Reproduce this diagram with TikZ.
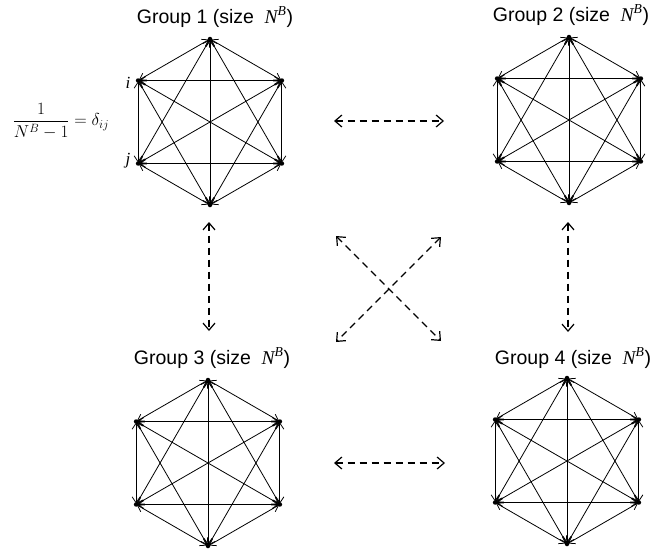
\documentclass[tikz,border=0pt]{standalone}
\usepackage{amsmath}
\usepackage{fontspec}
\setmainfont{Liberation Sans}
\newfontfamily\tms{Liberation Serif}
\usetikzlibrary{arrows.meta}
\tikzset{
  vtx/.style={circle,fill,inner sep=0pt,minimum size=4.5pt},
  kedge/.style={line width=0.8pt,
    {Straight Barb[length=6pt,width=8pt]}-{Straight Barb[length=6pt,width=8pt]},
    shorten <=-1.5pt, shorten >=-1.5pt},
  link/.style={line width=1.2pt,dash pattern=on 7pt off 5pt,
    {Straight Barb[length=7pt,width=12pt]}-{Straight Barb[length=7pt,width=12pt]}},
  title/.style={font=\fontsize{19.5}{23}\selectfont, inner sep=0pt},
  lbl/.style={font=\fontsize{17}{20}\selectfont\tms\itshape, inner sep=1pt},
}
\newcommand\NB{{\tms\itshape N}\textsuperscript{\tms\itshape B}}
\newcommand\hexgroup[4]{% name, cx, cy, number
  \begin{scope}[shift={(#2,#3)}]
    \foreach \k in {1,...,6}{
      \node[vtx] (#1v\k) at ({150-60*\k}:83) {};
    }
    \foreach \a in {1,...,6}{
      \foreach \b in {1,...,6}{
        \ifnum\a<\b
          \draw[kedge] (#1v\a) -- (#1v\b);
        \fi
      }
    }
  \end{scope}
}
\begin{document}
\begin{tikzpicture}[x=1pt,y=-1pt]
\useasboundingbox (0,0) rectangle (657,554);
\fill[white] (0,0) rectangle (657,554);

\hexgroup{a}{210}{122}{1}
\hexgroup{b}{569}{120}{2}
\hexgroup{c}{208}{463}{3}
\hexgroup{d}{567}{461}{4}

\node[title] (ta) at (215,17) {Group 1 (size\hspace{0.55em}\NB)};
\node[title] (tb) at (571,15) {Group 2 (size\hspace{0.55em}\NB)};
\node[title] (tc) at (212,358) {Group 3 (size\hspace{0.55em}\NB)};
\node[title] (td) at (573,358) {Group 4 (size\hspace{0.55em}\NB)};

\node[lbl,anchor=east] (li) at ([xshift=-4pt,yshift=-2pt]av5.west) {i};
\node[lbl,anchor=east] (lj) at ([xshift=-4pt,yshift=3pt]av6.west) {j};

\node[font=\fontsize{17.5}{21}\selectfont] (frm) at (61,121)
  {$\dfrac{1}{N^{B}-1}=\delta_{ij}$};

% dashed connectors
\coordinate (h1a) at (334,121); \coordinate (h1b) at (444,121);
\coordinate (h2a) at (334,463); \coordinate (h2b) at (445,463);
\coordinate (v1a) at (209,222); \coordinate (v1b) at (209,331);
\coordinate (v2a) at (568,222); \coordinate (v2b) at (568,332);
\coordinate (xa) at (336,236); \coordinate (xb) at (441,341);
\coordinate (xc) at (441,237); \coordinate (xd) at (336,342);
\draw[link] (h1a) -- (h1b);
\draw[link] (h2a) -- (h2b);
\draw[link] (v1a) -- (v1b);
\draw[link] (v2a) -- (v2b);
\draw[link] (xa) -- (xb);
\draw[link] (xc) -- (xd);
\end{tikzpicture}
\end{document}
